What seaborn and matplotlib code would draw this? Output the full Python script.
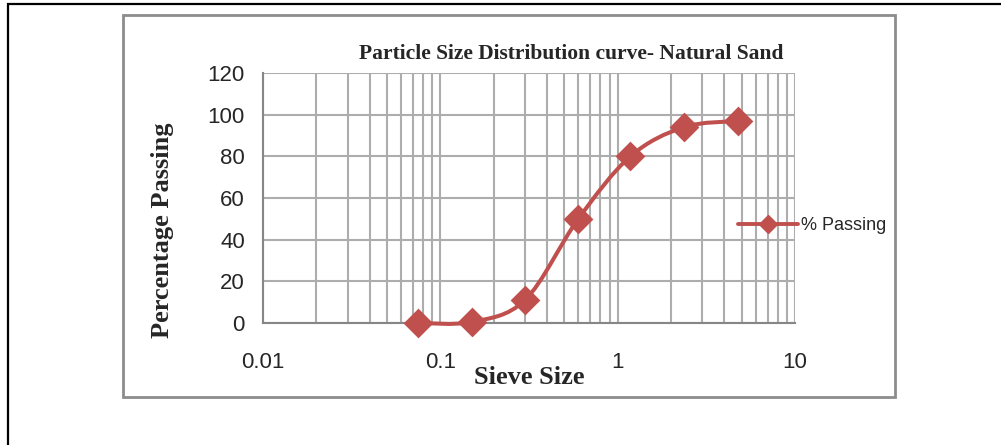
import numpy as np
import pandas as pd
import matplotlib
matplotlib.use("Agg")
import matplotlib.pyplot as plt
import seaborn as sns
from matplotlib.path import Path
from matplotlib.patches import PathPatch, Rectangle
from matplotlib.lines import Line2D

sieve_size = [0.075, 0.15, 0.3, 0.6, 1.18, 2.36, 4.75]
pct_passing = [0.0, 0.5, 11.0, 50.0, 80.0, 94.0, 97.0]
series_name = "% Passing"
title = "Particle Size Distribution curve- Natural Sand"
xlabel = "Sieve Size"
ylabel = "Percentage Passing"
y_ticks = [0, 20, 40, 60, 80, 100, 120]
x_ticks = [0.01, 0.1, 1, 10]
x_ticklabels = ["0.01", "0.1", "1", "10"]

color = "#C0504D"
grid_c = "#ADADAD"

sns.set_style("white")
fig = plt.figure(figsize=(10.01, 4.45), dpi=100)

# outer border and chart-area border
fig.patches.append(Rectangle((8 / 1001, -0.05), 1.1, 1 - 4 / 445 + 0.05, transform=fig.transFigure,
                             fill=False, edgecolor="black", linewidth=1.6))
fig.patches.append(Rectangle((123 / 1001, 1 - 397 / 445), (895 - 123) / 1001, (397 - 15) / 445,
                             transform=fig.transFigure, fill=False, edgecolor="#8C8C8C", linewidth=2))

ax = fig.add_axes([263 / 1001, 1 - 323 / 445, (795 - 263) / 1001, (323 - 73) / 445])
df = pd.DataFrame({"size": sieve_size, "passing": pct_passing})

ax.set_xscale("log")
ax.set_xlim(0.01, 10)
ax.set_ylim(0, 120)

# smooth curve (Catmull-Rom in log-x space rendered as Bezier path)
lx = np.log10(df["size"].to_numpy())
yy = df["passing"].to_numpy()
P = np.column_stack([lx, yy])
verts = [P[0]]
codes = [Path.MOVETO]
n = len(P)
for i in range(n - 1):
    p0 = P[i - 1] if i > 0 else P[i]
    p1 = P[i]
    p2 = P[i + 1]
    p3 = P[i + 2] if i + 2 < n else P[i + 1]
    c1 = p1 + (p2 - p0) / 6.0
    c2 = p2 - (p3 - p1) / 6.0
    verts += [c1, c2, p2]
    codes += [Path.CURVE4] * 3
verts = np.array(verts)
verts[:, 0] = 10 ** verts[:, 0]
curve = PathPatch(Path(verts, codes), fill=False, edgecolor=color, linewidth=2.9,
                  capstyle="round", joinstyle="round", zorder=3)
curve.set_clip_on(False)
ax.add_patch(curve)

sns.scatterplot(data=df, x="size", y="passing", marker="D", s=230, color=color,
                edgecolor=color, linewidth=0, ax=ax, zorder=4, legend=False, clip_on=False)

ax.set_yticks(y_ticks)
ax.set_xticks(x_ticks)
ax.set_xticklabels(x_ticklabels)
ax.xaxis.set_minor_locator(matplotlib.ticker.LogLocator(base=10, subs=np.arange(2, 10)))
ax.xaxis.set_minor_formatter(matplotlib.ticker.NullFormatter())
ax.grid(True, which="major", axis="both", color=grid_c, linewidth=1.5)
ax.grid(True, which="minor", axis="x", color=grid_c, linewidth=1.5)
ax.set_axisbelow(True)
for s in ["top", "right"]:
    ax.spines[s].set_visible(False)
for s in ["left", "bottom"]:
    ax.spines[s].set_color("#868686")
    ax.spines[s].set_linewidth(1.5)
ax.tick_params(axis="both", which="major", direction="out", length=7, width=1.5, color="#868686",
               labelsize=16, pad=6)
ax.tick_params(axis="x", which="minor", length=0)
ax.tick_params(axis="x", which="major", pad=14)
for lab in ax.get_xticklabels() + ax.get_yticklabels():
    lab.set_fontfamily("Liberation Sans")

ax.set_xlabel("")
ax.set_ylabel("")
fig.text(529 / 1001, 1 - 378 / 445, xlabel, ha="center", va="center", fontsize=19,
         fontweight="bold", family="Liberation Serif")
fig.text(163 / 1001, 1 - 230 / 445, ylabel, ha="center", va="center", rotation=90, fontsize=19,
         fontweight="bold", family="Liberation Serif")
fig.text(571 / 1001, 1 - 54 / 445, title, ha="center", va="center", fontsize=15.5,
         fontweight="bold", family="Liberation Serif")

handle = Line2D([], [], color=color, linewidth=2.8, marker="D", markersize=9)
fig.legend([handle], [series_name], loc="center left", bbox_to_anchor=(738 / 1001, 1 - 226 / 445),
           frameon=False, handlelength=3.3, handletextpad=0.2, borderaxespad=0, borderpad=0,
           prop={"family": "Liberation Sans", "size": 13})

fig.savefig("out.png", dpi=100)
